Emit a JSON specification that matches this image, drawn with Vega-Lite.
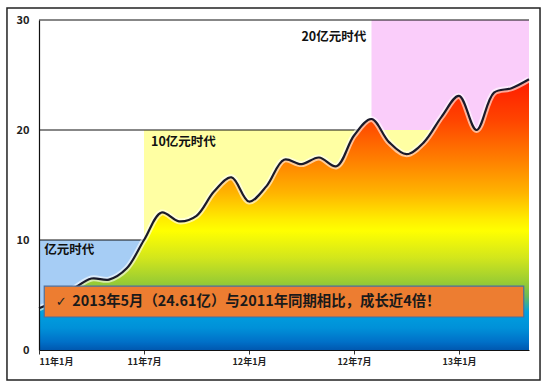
{
  "$schema": "https://vega.github.io/schema/vega-lite/v6.json",
  "width": 490,
  "height": 330,
  "autosize": {"type": "none"},
  "padding": {"left": 39, "top": 20, "right": 21, "bottom": 31},
  "background": "white",
  "config": {
    "view": {"stroke": null},
    "font": "Noto Sans CJK SC"
  },
  "datasets": {
    "sales": [
      {"m": 0, "v": 3.8}, {"m": 1, "v": 4.5}, {"m": 2, "v": 5.6}, {"m": 3, "v": 6.5},
      {"m": 4, "v": 6.4}, {"m": 5, "v": 7.4}, {"m": 6, "v": 10.0}, {"m": 7, "v": 12.5},
      {"m": 8, "v": 11.7}, {"m": 9, "v": 12.2}, {"m": 10, "v": 14.4}, {"m": 11, "v": 15.7},
      {"m": 12, "v": 13.5}, {"m": 13, "v": 14.9}, {"m": 14, "v": 17.3}, {"m": 15, "v": 16.9},
      {"m": 16, "v": 17.5}, {"m": 17, "v": 16.7}, {"m": 18, "v": 19.5}, {"m": 19, "v": 21.0},
      {"m": 20, "v": 18.9}, {"m": 21, "v": 17.8}, {"m": 22, "v": 18.9}, {"m": 23, "v": 21.2},
      {"m": 24, "v": 23.1}, {"m": 25, "v": 20.0}, {"m": 26, "v": 23.4}, {"m": 27, "v": 23.8},
      {"m": 28, "v": 24.61}
    ],
    "eras": [
      {"era": "亿元时代", "start": 0, "end": 6, "low": 0, "high": 10},
      {"era": "10亿元时代", "start": 6, "end": 28, "low": 0, "high": 20},
      {"era": "20亿元时代", "start": 19, "end": 28, "low": 20, "high": 30}
    ],
    "levels": [
      {"level": 10, "from": 0, "to": 6},
      {"level": 20, "from": 0, "to": 19},
      {"level": 30, "from": 0, "to": 28}
    ]
  },
  "layer": [
    {
      "data": {"name": "eras"},
      "mark": {"type": "rect"},
      "encoding": {
        "x": {"field": "start", "type": "quantitative", "scale": {"domain": [0, 28], "nice": false, "zero": false},
          "axis": {"values": [0, 6, 12, 18, 24], "title": null, "grid": false,
            "labelExpr": "(11 + floor(datum.value / 12)) + '年' + (datum.value % 12 + 1) + '月'",
            "labelFont": "Noto Sans CJK SC", "labelFontSize": 9, "labelFontWeight": "bold", "labelColor": "#222",
            "domainColor": "#111", "domainWidth": 1.2, "tickColor": "#333", "tickSize": 4, "labelPadding": 3, "zindex": 1}},
        "x2": {"field": "end"},
        "y": {"field": "low", "type": "quantitative", "scale": {"domain": [0, 30], "nice": false},
          "axis": {"values": [0, 10, 20, 30], "title": null, "grid": false,
            "labelFont": "Noto Sans CJK SC", "labelFontSize": 11, "labelFontWeight": "bold", "labelColor": "#222",
            "domainColor": "#111", "domainWidth": 1.2, "ticks": false, "labelPadding": 10, "zindex": 1}},
        "y2": {"field": "high"},
        "color": {"field": "era", "type": "nominal", "legend": null,
          "scale": {"domain": ["亿元时代", "10亿元时代", "20亿元时代"], "range": ["#a6cdf5", "#ffffa3", "#facdfa"]}}
      }
    },
    {
      "data": {"name": "levels"},
      "mark": {"type": "rule", "color": "#111", "strokeWidth": 1.2},
      "encoding": {
        "x": {"field": "from", "type": "quantitative"},
        "x2": {"field": "to"},
        "y": {"field": "level", "type": "quantitative"}
      }
    },
    {
      "data": {"name": "sales"},
      "mark": {
        "type": "area",
        "interpolate": "catmull-rom",
        "color": {
          "gradient": "linear",
          "x1": 0, "y1": 0, "x2": 0, "y2": 1,
          "stops": [
            {"offset": 0, "color": "#ff1a00"},
            {"offset": 0.15, "color": "#ff4400"},
            {"offset": 0.3, "color": "#ff8000"},
            {"offset": 0.42, "color": "#ffb400"},
            {"offset": 0.52, "color": "#ffee00"},
            {"offset": 0.56, "color": "#ffff00"},
            {"offset": 0.66, "color": "#d2e61c"},
            {"offset": 0.75, "color": "#99cc33"},
            {"offset": 0.8, "color": "#6cbb55"},
            {"offset": 0.86, "color": "#00a0e0"},
            {"offset": 0.92, "color": "#0090d8"},
            {"offset": 0.97, "color": "#0070c8"},
            {"offset": 1, "color": "#0058b0"}
          ]
        }
      },
      "encoding": {
        "x": {"field": "m", "type": "quantitative"},
        "y": {"field": "v", "type": "quantitative"}
      }
    },
    {
      "data": {"name": "sales"},
      "mark": {"type": "line", "interpolate": "catmull-rom", "color": "white", "strokeWidth": 6, "opacity": 0.6},
      "encoding": {
        "x": {"field": "m", "type": "quantitative"},
        "y": {"field": "v", "type": "quantitative"}
      }
    },
    {
      "data": {"name": "sales"},
      "mark": {"type": "line", "interpolate": "catmull-rom", "color": "#1a1a2a", "strokeWidth": 2.2},
      "encoding": {
        "x": {"field": "m", "type": "quantitative"},
        "y": {"field": "v", "type": "quantitative"}
      }
    },
    {
      "data": {"values": [{"label": "亿元时代"}]},
      "mark": {"type": "text", "align": "left", "baseline": "middle", "fontSize": 12.5, "fontWeight": "bold", "color": "#111"},
      "encoding": {"x": {"datum": 0.3}, "y": {"datum": 9.1}, "text": {"field": "label"}}
    },
    {
      "data": {"values": [{"label": "10亿元时代"}]},
      "mark": {"type": "text", "align": "left", "baseline": "middle", "fontSize": 12.5, "fontWeight": "bold", "color": "#111"},
      "encoding": {"x": {"datum": 6.4}, "y": {"datum": 18.95}, "text": {"field": "label"}}
    },
    {
      "data": {"values": [{"label": "20亿元时代"}]},
      "mark": {"type": "text", "align": "right", "baseline": "middle", "fontSize": 12.5, "fontWeight": "bold", "color": "#111"},
      "encoding": {"x": {"datum": 18.7}, "y": {"datum": 28.5}, "text": {"field": "label"}}
    },
    {
      "data": {"values": [{"note": "banner"}]},
      "mark": {"type": "rect", "fill": "#ed7d31", "stroke": "#4f6f9a", "strokeWidth": 1.2},
      "encoding": {"x": {"datum": 0.3}, "x2": {"datum": 27.7}, "y": {"datum": 3.0}, "y2": {"datum": 5.8}}
    },
    {
      "data": {"values": [{"t": "✓"}]},
      "mark": {"type": "text", "align": "left", "baseline": "middle", "fontSize": 13, "font": "DejaVu Sans", "fontWeight": "bold", "color": "#222"},
      "encoding": {"x": {"datum": 0.95}, "y": {"datum": 4.4}, "text": {"field": "t"}}
    },
    {
      "data": {"values": [{"t": "2013年5月（24.61亿）与2011年同期相比，成长近4倍！"}]},
      "mark": {"type": "text", "align": "left", "baseline": "middle", "fontSize": 14.4, "fontWeight": "bold", "color": "#1a1a1a"},
      "encoding": {"x": {"datum": 1.9}, "y": {"datum": 4.4}, "text": {"field": "t"}}
    },
    {
      "data": {"values": [{"note": "frame"}]},
      "mark": {"type": "rect", "fill": null, "stroke": "#222", "strokeWidth": 1.5},
      "encoding": {"x": {"datum": -1.83}, "x2": {"datum": 28.63}, "y": {"datum": -2.73}, "y2": {"datum": 31.1}}
    }
  ]
}
